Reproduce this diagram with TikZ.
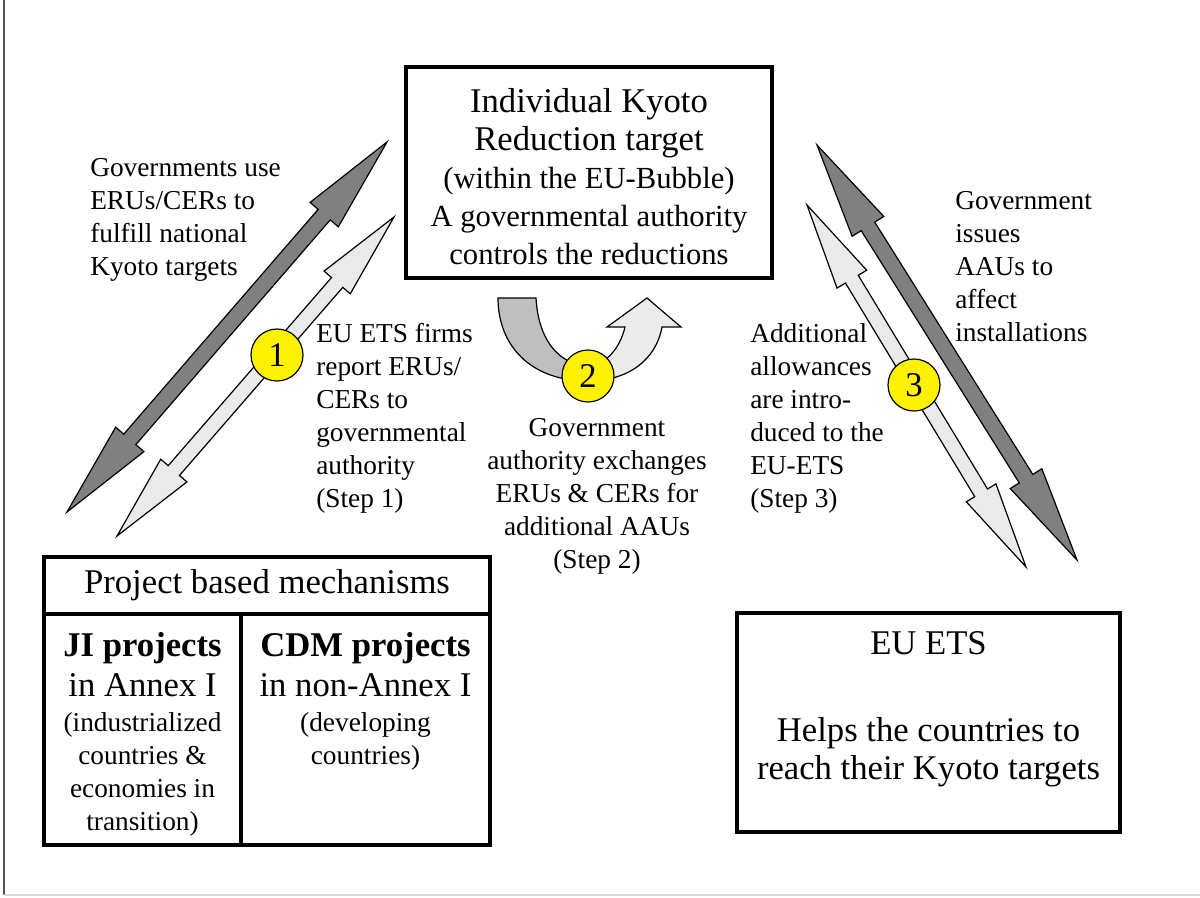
\documentclass[tikz,border=0pt]{standalone}
\usepackage{fontspec}
\setmainfont{Liberation Serif}
\usetikzlibrary{calc}
\definecolor{darkarr}{HTML}{808080}
\definecolor{lightarr}{HTML}{EAEAEA}
\definecolor{curvL}{HTML}{BFBFBF}
\definecolor{curvR}{HTML}{EBEBEB}
\definecolor{framedark}{HTML}{555555}
\definecolor{framelight}{HTML}{D9D9D9}
\newcommand\blockarr[6]{%
  \filldraw[arrowline, fill=#6] (#1)
   -- ($(#1)!#5!(#2)!#4!90:(#2)$) -- ($(#1)!#5!(#2)!#3!90:(#2)$)
   -- ($(#2)!#5!(#1)!#3!-90:(#1)$) -- ($(#2)!#5!(#1)!#4!-90:(#1)$)
   -- (#2)
   -- ($(#2)!#5!(#1)!#4!90:(#1)$) -- ($(#2)!#5!(#1)!#3!90:(#1)$)
   -- ($(#1)!#5!(#2)!#3!-90:(#2)$) -- ($(#1)!#5!(#2)!#4!-90:(#2)$)
   -- cycle;}
\begin{document}
\begin{tikzpicture}[x=0.75pt,y=-0.75pt,
  box/.style={draw, line width=2.3pt, rectangle, inner sep=0pt},
  arrowline/.style={draw=black, line width=0.9pt, line join=miter},
  side/.style={font=\fontsize{20.5}{24.75}\selectfont, align=left, inner sep=0pt, anchor=north west},
  big/.style={font=\fontsize{26}{28.5}\selectfont, align=center, inner sep=0pt},
  numcirc/.style={circle, draw, fill=yellow, line width=0.9pt, minimum size=39pt, inner sep=0pt, font=\fontsize{26}{26}\selectfont},
  framel/.style={draw=framedark, line width=1.5pt},
  frameb/.style={draw=framelight, line width=1.5pt}]
\useasboundingbox (0,0) rectangle (1200,897);

% outer frame lines
\coordinate (fTL) at (3.5,0);
\coordinate (fBL) at (3.5,895);
\coordinate (fBR) at (1200,895);
\draw[framel] (fTL) -- (fBL);
\draw[frameb] (fBL) -- (fBR);

% top box
\node[box, minimum width=274.5pt, minimum height=158.25pt] (kyoto) at (589,172.5) {};
\node[big, anchor=north, font=\fontsize{23}{28.5}\selectfont] (kyototxt) at (589,88)
  {{\fontsize{26}{28.5}\selectfont Individual Kyoto}\\{\fontsize{26}{28.5}\selectfont Reduction target}\\(within the EU-Bubble)\\A governmental authority\\controls the reductions};

% table of project based mechanisms
\node[box, big, minimum width=334.5pt, minimum height=42.75pt] (hdr) at (267,585.5) {Project based mechanisms};
\node[box, minimum width=147.75pt, minimum height=173.25pt] (ji) at (142.5,729.5) {};
\node[box, minimum width=186.75pt, minimum height=173.25pt] (cdm) at (365.5,729.5) {};
\node[big, anchor=north, font=\fontsize{20.5}{24.75}\selectfont] (jitxt) at (142.5,632)
  {{\fontsize{26}{28}\selectfont\bfseries JI projects}\\[5.25pt]{\fontsize{26}{28}\selectfont in Annex I}\\[1.5pt](industrialized\\countries \&\\economies in\\transition)};
\node[big, anchor=north, font=\fontsize{20.5}{24.75}\selectfont] (cdmtxt) at (365.5,632)
  {{\fontsize{26}{28}\selectfont\bfseries CDM projects}\\[5.25pt]{\fontsize{26}{28}\selectfont in non-Annex I}\\[1.5pt](developing\\countries)};

% EU ETS box
\node[box, minimum width=287.25pt, minimum height=164.25pt] (ets) at (928.5,722.5) {};
\node[big, anchor=north] (etstxt) at (928.5,631)
  {EU ETS\\[36.75pt]Helps the countries to\\reach their Kyoto targets};

% side texts
\node[side] (t1) at (90,158) {Governments use\\ERUs/CERs to\\fulfill national\\Kyoto targets};
\node[side] (t2) at (316,323) {EU ETS firms\\report ERUs/\\CERs to\\governmental\\authority\\(Step 1)};
\node[side, anchor=north, align=center] (t3) at (597,418) {Government\\authority exchanges\\ERUs \& CERs for\\additional AAUs\\(Step 2)};
\node[side] (t4) at (750,323) {Additional\\allowances\\are intro-\\duced to the\\EU-ETS\\(Step 3)};
\node[side] (t5) at (955,191) {Government\\issues\\AAUs to\\affect\\installations};

% block arrows
\coordinate (L1a) at (387,142); \coordinate (L1b) at (67,512);
\coordinate (L2a) at (394,217); \coordinate (L2b) at (117,536);
\coordinate (R1a) at (817,145); \coordinate (R1b) at (1077,560);
\coordinate (R2a) at (807,205); \coordinate (R2b) at (1026,567);
\blockarr{L1a}{L1b}{6pt}{14pt}{72pt}{darkarr}
\blockarr{L2a}{L2b}{5.6pt}{13pt}{65pt}{lightarr}
\blockarr{R2a}{R2b}{5.6pt}{13pt}{65pt}{lightarr}
\blockarr{R1a}{R1b}{6pt}{14pt}{72pt}{darkarr}

% curved exchange arrow
\filldraw[arrowline, fill=curvL] (498,298) -- (536,298)
  .. controls (538,335) and (555,364) .. (588,366) -- (588,381)
  .. controls (530,381) and (498,345) .. (498,298) -- cycle;
\filldraw[arrowline, fill=curvR] (588,381)
  .. controls (628,381) and (656,360) .. (662,327) -- (681,327) -- (647,298)
  -- (607,327) -- (625,327)
  .. controls (620,348) and (606,365) .. (588,366) -- cycle;

% step circles
\node[numcirc] (c1) at (277,355) {1};
\node[numcirc] (c2) at (588,376) {2};
\node[numcirc] (c3) at (914,385) {3};
\end{tikzpicture}
\end{document}
